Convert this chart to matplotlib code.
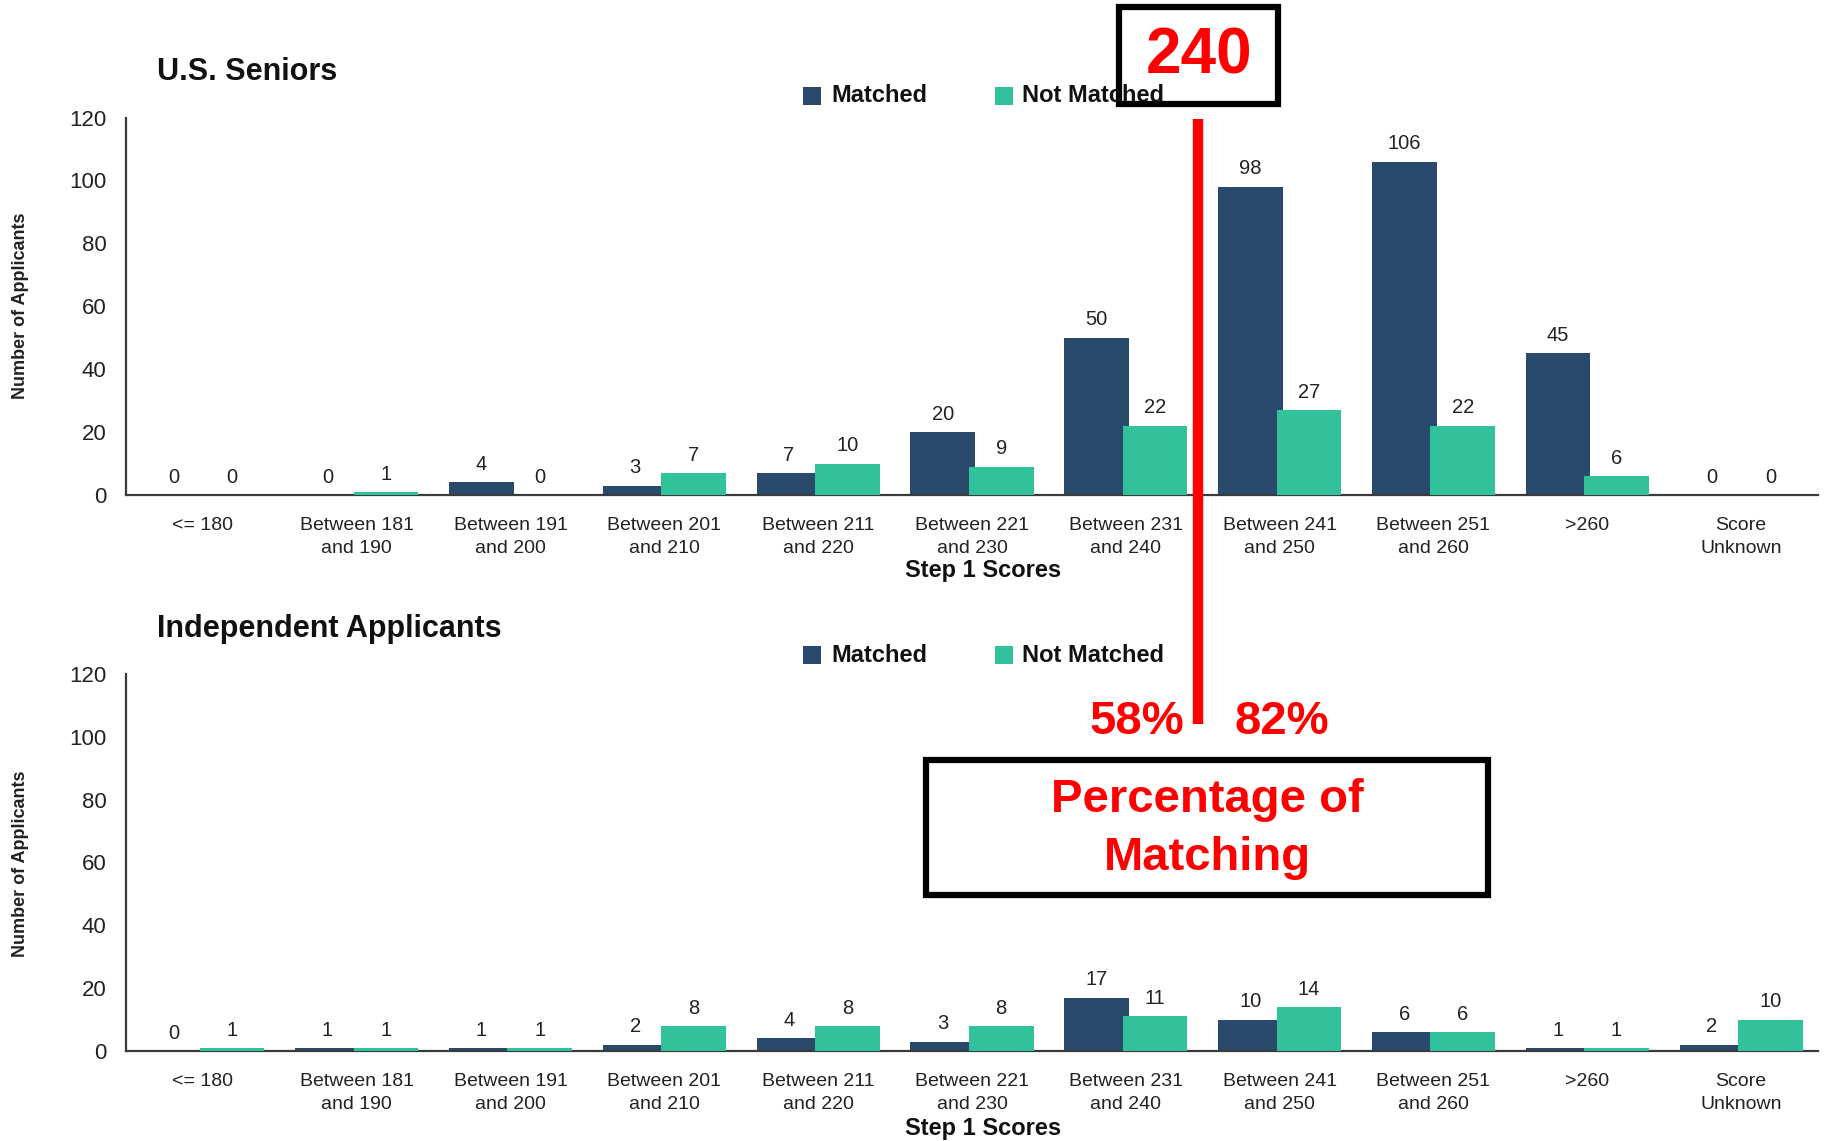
import matplotlib
matplotlib.use("Agg")
import matplotlib.pyplot as plt
from matplotlib.patches import Rectangle
from matplotlib.lines import Line2D
import numpy as np

plt.rcParams['font.family'] = ['Liberation Sans', 'DejaVu Sans']

categories = ["<= 180", "Between 181\nand 190", "Between 191\nand 200", "Between 201\nand 210",
              "Between 211\nand 220", "Between 221\nand 230", "Between 231\nand 240",
              "Between 241\nand 250", "Between 251\nand 260", ">260", "Score\nUnknown"]
seniors_matched = [0, 0, 4, 3, 7, 20, 50, 98, 106, 45, 0]
seniors_not_matched = [0, 1, 0, 7, 10, 9, 22, 27, 22, 6, 0]
indep_matched = [0, 1, 1, 2, 4, 3, 17, 10, 6, 1, 2]
indep_not_matched = [1, 1, 1, 8, 8, 8, 11, 14, 6, 1, 10]
yticks = [0, 20, 40, 60, 80, 100, 120]

NAVY = '#29496D'
TEAL = '#31C19B'
W, H = 1825, 1141

fig = plt.figure(figsize=(W / 100, H / 100), dpi=100)


def px(x, y):
    return x / W, 1 - y / H


def make_ax(top_px, bottom_px, matched, notm, title, title_y, legend_y, xlabel_y, ylabel_y):
    l = 126 / W
    wdt = 1692 / W
    b = 1 - bottom_px / H
    h = (bottom_px - top_px) / H
    ax = fig.add_axes([l, b, wdt, h])
    x = np.arange(len(categories))
    bw = 0.42
    b1 = ax.bar(x - 0.19, matched, bw, color=NAVY, linewidth=0, zorder=2)
    b2 = ax.bar(x + 0.19, notm, bw, color=TEAL, linewidth=0, zorder=3)
    for bars, vals in ((b1, matched), (b2, notm)):
        for r, v in zip(bars, vals):
            ax.annotate(str(v), (r.get_x() + r.get_width() / 2, v), xytext=(0, 6),
                        textcoords='offset points', ha='center', va='bottom',
                        fontsize=14.5, color='#222222')
    ax.set_xlim(-0.5, len(categories) - 0.5)
    ax.set_ylim(0, 120)
    ax.set_yticks(yticks)
    ax.set_yticklabels([str(t) for t in yticks], fontsize=16, color='#222222')
    ax.set_xticks(x)
    ax.set_xticklabels(categories, fontsize=14, color='#222222', linespacing=1.45)
    ax.tick_params(axis='both', length=0)
    ax.tick_params(axis='y', pad=14)
    ax.tick_params(axis='x', pad=16)
    for s in ('top', 'right'):
        ax.spines[s].set_visible(False)
    for s in ('left', 'bottom'):
        ax.spines[s].set_color('#3a3a3a')
        ax.spines[s].set_linewidth(1.6)
    ax.set_facecolor('none')
    # title
    tx, ty = px(157, title_y)
    fig.text(tx, ty, title, fontsize=22, fontweight='bold', ha='left', va='center', color='#111111')
    # y label
    yx, yy = px(21, ylabel_y)
    fig.text(yx, yy, "Number of Applicants", rotation=90, fontsize=13, fontweight='bold',
             ha='center', va='center', color='#222222')
    # x label
    xx, xy = px(983, xlabel_y)
    fig.text(xx, xy, "Step 1 Scores", fontsize=17, fontweight='bold', ha='center', va='center',
             color='#111111')
    # legend
    for mx, tx0, lab, col in ((803, 831, "Matched", NAVY), (995, 1022, "Not Matched", TEAL)):
        rx, ry = px(mx, legend_y + 9)
        fig.add_artist(Rectangle((rx, ry), 18 / W, 18 / H, transform=fig.transFigure,
                                 facecolor=col, edgecolor='none'))
        lx, ly = px(tx0, legend_y)
        fig.text(lx, ly, lab, fontsize=17, fontweight='bold', ha='left', va='center', color='#111111')
    return ax


make_ax(117.5, 495, seniors_matched, seniors_not_matched, "U.S. Seniors", 72, 96, 571, 306)
make_ax(674, 1051, indep_matched, indep_not_matched, "Independent Applicants", 629, 655, 1129, 864)

RED = '#FF0000'
# red vertical line
x0, y0 = px(1198, 119)
x1, y1 = px(1198, 724)
fig.add_artist(Line2D([x0, x1], [y0, y1], transform=fig.transFigure, color=RED, linewidth=7.5,
                      solid_capstyle='butt'))
# 240 box
bx0, by0 = px(1118.5, 103.6)
fig.add_artist(Rectangle((bx0, by0), (1278 - 1118.5) / W, (103.6 - 7) / H, transform=fig.transFigure,
                         facecolor='none', edgecolor='black', linewidth=4.5))
tx, ty = px(1199, 57)
fig.text(tx, ty, "240", fontsize=46, fontweight='bold', color=RED, ha='center', va='center')
# percentages
tx, ty = px(1137, 722)
fig.text(tx, ty, "58%", fontsize=34, fontweight='bold', color=RED, ha='center', va='center')
tx, ty = px(1281.5, 722)
fig.text(tx, ty, "82%", fontsize=34, fontweight='bold', color=RED, ha='center', va='center')
# percentage box
bx0, by0 = px(926, 894.5)
fig.add_artist(Rectangle((bx0, by0), (1488 - 926) / W, (894.5 - 759.5) / H, transform=fig.transFigure,
                         facecolor='white', edgecolor='black', linewidth=4.5))
tx, ty = px(1207, 800)
fig.text(tx, ty, "Percentage of", fontsize=34, fontweight='bold', color=RED, ha='center', va='center')
tx, ty = px(1207, 858.5)
fig.text(tx, ty, "Matching", fontsize=34, fontweight='bold', color=RED, ha='center', va='center')

fig.savefig("out.png", dpi=100, facecolor='white')
